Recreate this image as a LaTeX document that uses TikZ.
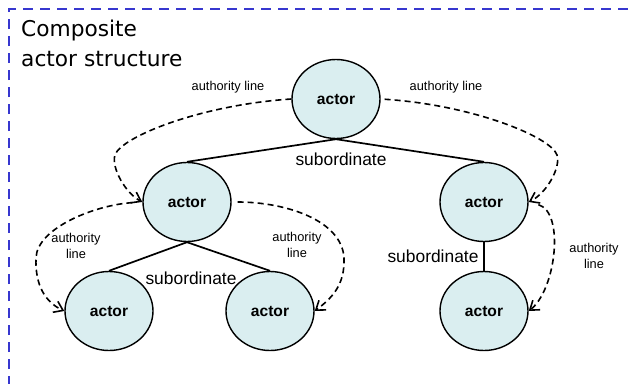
\documentclass[tikz,border=0pt]{standalone}
\usepackage{fontspec}
\setmainfont{Liberation Sans}
\newfontfamily\titlefont{DejaVu Sans}
\usetikzlibrary{shapes.geometric,arrows.meta}
\definecolor{framecol}{HTML}{3737CF}
\definecolor{actfill}{HTML}{DAEEF0}
\tikzset{
  actor/.style={ellipse,draw=black,line width=1.4pt,fill=actfill,minimum width=88pt,minimum height=79pt,inner sep=0pt,font=\bfseries\fontsize{15.6}{18}\selectfont},
  subline/.style={line width=1.7pt},
  authline/.style={line width=1.6pt,dash pattern=on 6pt off 4pt,-{Straight Barb[length=8.5pt,width=12pt,line width=1.6pt]}},
  sublabel/.style={inner sep=0pt,font=\fontsize{17.4}{20}\selectfont},
  authlabel/.style={inner sep=0pt,align=center,font=\fontsize{12.8}{16.5}\selectfont},
}
\begin{document}
\begin{tikzpicture}[x=1pt,y=-1pt]
\useasboundingbox (0,0) rectangle (629,383);
\clip (0,0) rectangle (629,383);
\draw[framecol,line width=2.5pt,dash pattern=on 10pt off 7pt] (9,420) -- (9,9) -- (680,9);
\node[anchor=north west,inner sep=0pt,align=left,font=\titlefont\fontsize{21.7}{30}\selectfont] (title) at (21,19.5) {Composite\\actor structure};
% actors
\node[actor] (top) at (336,99) {actor};
\node[actor] (ml) at (187,202) {actor};
\node[actor] (mr) at (484,202) {actor};
\node[actor] (bl) at (109,311) {actor};
\node[actor] (bm) at (270,311) {actor};
\node[actor] (br) at (484,311) {actor};
% subordinate lines
\draw[subline] (top.south) -- (ml.north);
\draw[subline] (top.south) -- (mr.north);
\draw[subline] (ml.south) -- (bl.north);
\draw[subline] (ml.south) -- (bm.north);
\draw[subline] (mr.south) -- (br.north);
\node[sublabel] (s1) at (341,159) {subordinate};
\node[sublabel] (s2) at (191,278) {subordinate};
\node[sublabel] (s3) at (433,256) {subordinate};
% authority lines
\draw[authline] (top.west) .. controls (200,105) and (121,137) .. (115,155)
   .. controls (111,167) and (125,193) .. (ml.west);
\draw[authline,shorten <=4pt] (top.east) .. controls (473,105) and (551,137) .. (557,155)
   .. controls (561,167) and (547,193) .. (mr.east);
\draw[authline,shorten <=10pt] (ml.west) .. controls (95,205) and (37,228) .. (36,258)
   .. controls (35,285) and (45,302) .. (bl.west);
\draw[authline,shorten <=6pt] (ml.east) .. controls (285,202) and (342,220) .. (344,258)
   .. controls (345,285) and (332,298) .. (bm.east);
\draw[authline,shorten <=10pt] (mr.east) .. controls (565,212) and (556,290) .. (br.east);
\node[authlabel] (a1) at (228,87) {authority line};
\node[authlabel] (a2) at (446,87) {authority line};
\node[authlabel] (a3) at (76,246) {authority\\line};
\node[authlabel] (a4) at (297,245) {authority\\line};
\node[authlabel] (a5) at (594,256) {authority\\line};
\end{tikzpicture}
\end{document}
